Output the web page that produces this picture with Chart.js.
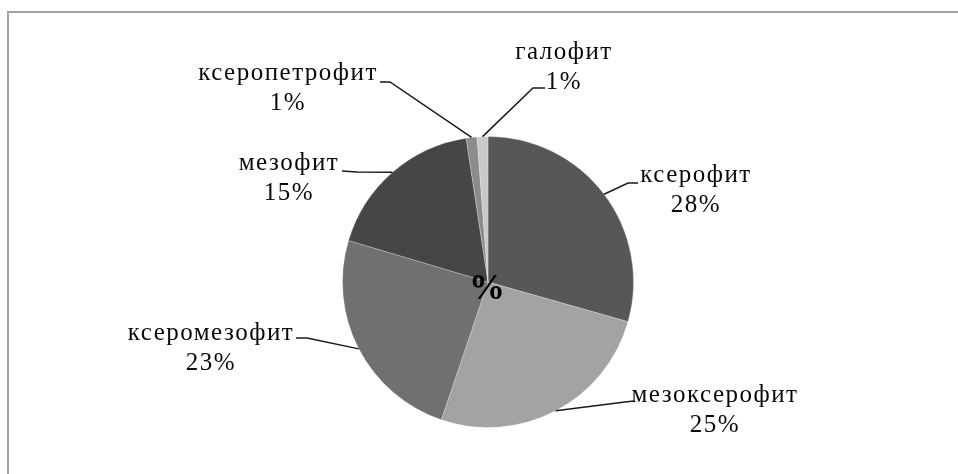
<!DOCTYPE html>
<html lang="ru">
  <head>
    <title>%</title>
    <meta charset="utf-8" />
    <script src="https://cdn.jsdelivr.net/npm/chart.js"></script>
    <style>
      html,
      body {
        margin: 0;
        padding: 0;
        background: #fff;
      }
      .chart {
        width: 958px;
        height: 474px;
      }
    </style>
  </head>
  <body>
    <div class="chart"><canvas id="pie-chart"></canvas></div>

    <script>
      // категории по часовой стрелке от 12 часов
      var groups = [
        "ксерофит",
        "мезоксерофит",
        "ксеромезофит",
        "мезофит",
        "ксеропетрофит",
        "галофит",
      ];
      // размер секторов, как на картинке
      var shares = [29.4, 25.8, 24.4, 18.0, 1.2, 1.2];
      // подписи процентов, как напечатано
      var percents = [28, 25, 23, 15, 1, 1];
      var title = "%";

      var colors = ["#575757", "#a3a3a3", "#707070", "#464646", "#8c8c8c", "#c9c9c9"];

      // где стоят подписи: центр первой строки, излом и конец выноски
      var labelLayout = [
        { x: 695, y: 175, elbow: [628, 183], end: [638, 183] },
        { x: 714, y: 395, elbow: [625, 402], end: [634, 401] },
        { x: 210, y: 333, elbow: [307, 338], end: [296, 338] },
        { x: 288, y: 163, elbow: [357, 172], end: [342, 171] },
        { x: 287, y: 73, elbow: [390, 82], end: [380, 82] },
        { x: 563, y: 52, elbow: [533, 88], end: [545, 88] },
      ];

      var frame = {
        id: "frame",
        beforeDraw: (chart) => {
          var ctx = chart.ctx;
          ctx.save();
          ctx.fillStyle = "#fff";
          ctx.fillRect(0, 0, chart.width, chart.height);
          ctx.strokeStyle = "#a2a2a2";
          ctx.lineWidth = 2;
          ctx.beginPath();
          ctx.moveTo(8, chart.height);
          ctx.lineTo(8, 12);
          ctx.lineTo(chart.width, 12);
          ctx.stroke();
          ctx.restore();
        },
      };

      var pieLabels = {
        id: "pieLabels",
        afterDatasetsDraw: (chart) => {
          var ctx = chart.ctx;
          var arcs = chart.getDatasetMeta(0).data;
          ctx.save();
          arcs.forEach((arc, i) => {
            var mid = (arc.startAngle + arc.endAngle) / 2;
            var px = arc.x + Math.cos(mid) * arc.outerRadius;
            var py = arc.y + Math.sin(mid) * arc.outerRadius;
            var lay = labelLayout[i];
            ctx.strokeStyle = "#1a1a1a";
            ctx.lineWidth = 1.5;
            ctx.beginPath();
            ctx.moveTo(px, py);
            ctx.lineTo(lay.elbow[0], lay.elbow[1]);
            ctx.lineTo(lay.end[0], lay.end[1]);
            ctx.stroke();

            ctx.fillStyle = "#0a0a0a";
            ctx.font = "25px 'Liberation Serif', serif";
            ctx.letterSpacing = "1.5px";
            ctx.textAlign = "center";
            ctx.textBaseline = "middle";
            ctx.fillText(groups[i], lay.x + 1, lay.y);
            ctx.fillText(percents[i] + "%", lay.x + 1, lay.y + 30);
          });

          // заголовок "%" по центру круга
          var a = arcs[0];
          ctx.letterSpacing = "0px";
          ctx.font = "bold 36px 'Liberation Serif', serif";
          ctx.fillStyle = "#000";
          ctx.fillText(title, a.x - 1, a.y + 8);
          ctx.restore();
        },
      };

      new Chart(document.getElementById("pie-chart"), {
        type: "pie",
        data: {
          labels: groups,
          datasets: [
            {
              data: shares,
              backgroundColor: colors,
              borderColor: "rgba(255,255,255,0.25)",
              borderWidth: 1,
            },
          ],
        },
        options: {
          responsive: true,
          maintainAspectRatio: false,
          animation: false,
          layout: {
            padding: { left: 18, right: 0, top: 136, bottom: 46 },
          },
          plugins: {
            legend: { display: false },
            tooltip: { enabled: false },
          },
        },
        plugins: [frame, pieLabels],
      });
    </script>
  </body>
</html>
